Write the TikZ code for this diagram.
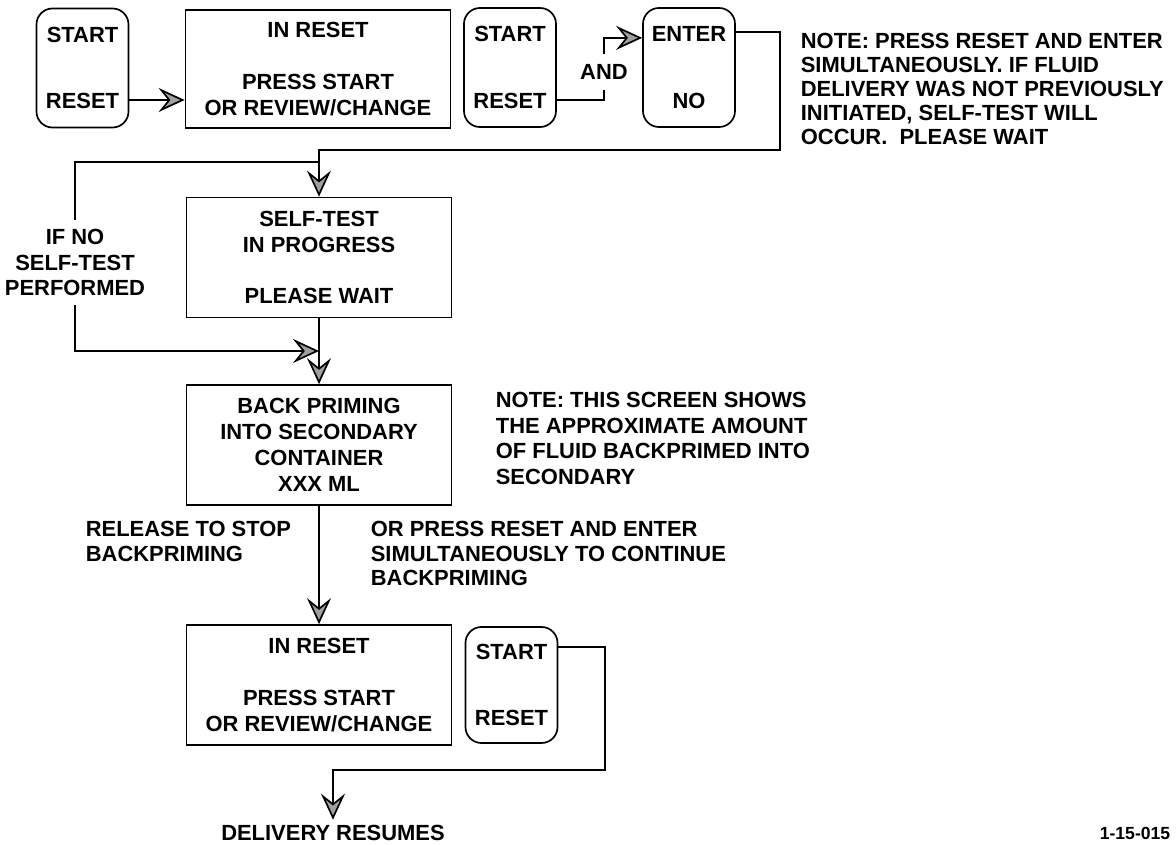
\documentclass[tikz,border=0pt]{standalone}
\usepackage{fontspec}
\setmainfont{Liberation Sans}
\usetikzlibrary{arrows.meta}
\begin{document}
\begin{tikzpicture}[x=0.025cm, y=-0.025cm, line width=1.2pt,
  every node/.style={font=\fontsize{15.6}{18.4}\selectfont\bfseries},
  screen/.style={draw, rectangle, align=center, minimum width=6.625cm, minimum height=3cm, inner sep=0pt},
  keypad/.style={draw, rectangle, rounded corners=0.4cm, align=center, minimum width=2.3cm, minimum height=2.975cm, inner sep=0pt},
  note/.style={align=left, anchor=north west, inner sep=0pt},
  arr/.style={-{Stealth[length=6.5mm, width=6mm, inset=2.4mm, fill=gray!75]}}]
\useasboundingbox (0,0) rectangle (1176,845);
\node[keypad] (k1) at (82.5,68) {START\\[28.7pt]RESET};
\node[screen, minimum height=2.95cm] (ir1) at (318,69) {IN RESET\\[18.4pt]PRESS START\\OR REVIEW/CHANGE};
\node[keypad] (k2) at (510,67.5) {START\\[28.7pt]RESET};
\node[inner xsep=2pt, inner ysep=7pt] (and) at (604,72) {AND};
\node[keypad] (k3) at (689,67.5) {ENTER\\[28.7pt]NO};
\node[note, font=\fontsize{15.6}{17.2}\selectfont\bfseries] (note1) at (800,32) {NOTE: PRESS RESET AND ENTER\\SIMULTANEOUSLY. IF FLUID\\DELIVERY WAS NOT PREVIOUSLY\\INITIATED, SELF-TEST WILL\\OCCUR.\ \ PLEASE WAIT};
\node[screen] (st) at (319,257.5) {SELF-TEST\\IN PROGRESS\\[18.4pt]PLEASE WAIT};
\node[align=center, inner ysep=6pt, font=\fontsize{15.6}{18}\selectfont\bfseries] (ifno) at (75,262.5) {IF NO\\SELF-TEST\\PERFORMED};
\node[screen] (bp) at (319,445) {BACK PRIMING\\INTO SECONDARY\\CONTAINER\\XXX ML};
\node[note] (note2) at (495,391) {NOTE: THIS SCREEN SHOWS\\THE APPROXIMATE AMOUNT\\OF FLUID BACKPRIMED INTO\\SECONDARY};
\node[note, font=\fontsize{15.6}{17.7}\selectfont\bfseries] (release) at (85,520) {RELEASE TO STOP\\BACKPRIMING};
\node[note, font=\fontsize{15.6}{17.7}\selectfont\bfseries] (orpress) at (370,520) {OR PRESS RESET AND ENTER\\SIMULTANEOUSLY TO CONTINUE\\BACKPRIMING};
\node[screen] (ir2) at (319,685) {IN RESET\\[18.4pt]PRESS START\\OR REVIEW/CHANGE};
\node[keypad, minimum height=2.9cm] (k4) at (511.5,685) {START\\[28.7pt]RESET};
\node (deliv) at (333,833) {DELIVERY RESUMES};
\node[font=\fontsize{12.5}{15}\selectfont\bfseries] (fignum) at (1135,833) {1-15-015};
\coordinate (fork) at (319,162);
\coordinate (join) at (319,351);
\coordinate (turn1) at (780,150);
\coordinate (turn2) at (605,770);
\draw[arr] ([yshift=-0.8cm]k1.east) -- ([yshift=-0.8cm]k1.east -| ir1.west);
\draw ([yshift=-0.81cm]k2.east) -| (and.south);
\draw[arr] (and.north) |- ([yshift=0.74cm]k3.west);
\draw[arr] ([yshift=0.89cm]k3.east) -| (turn1) -| (st.north);
\draw (fork) -| (ifno.north);
\draw[arr] (ifno.south) |- (join);
\draw[arr] (st.south) -- (bp.north);
\draw[arr] (bp.south) -- (ir2.north);
\draw[arr] ([yshift=0.95cm]k4.east) -| (turn2) -| (deliv.north);
\end{tikzpicture}
\end{document}
